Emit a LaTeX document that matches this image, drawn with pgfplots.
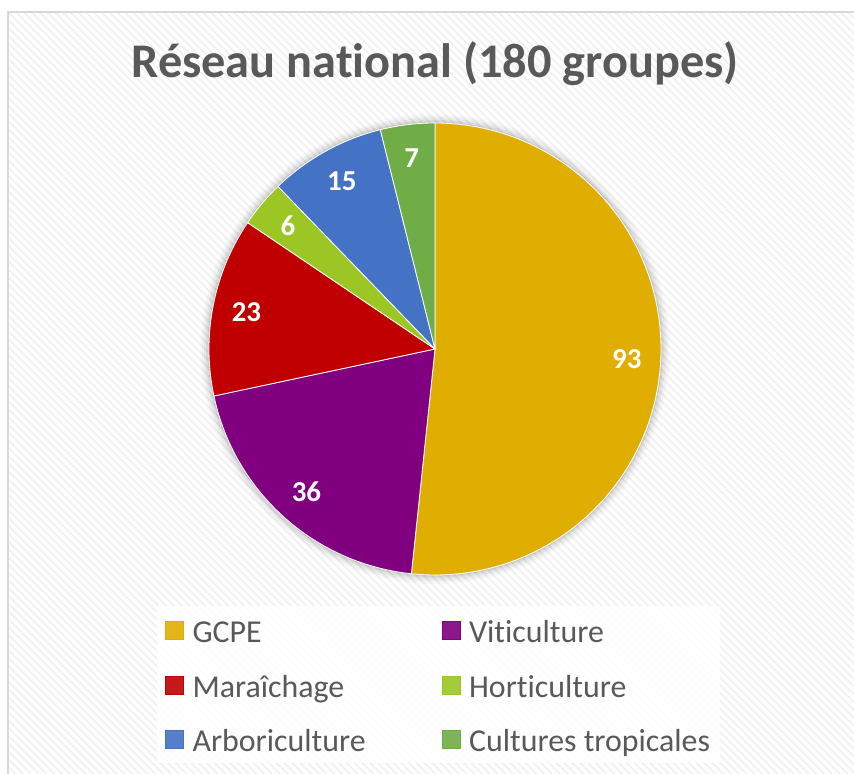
\documentclass[border=0pt]{standalone}
\usepackage{fontspec}
\setmainfont{Carlito}[Ligatures=CommonOff]
\usepackage{pgfplots}
\pgfplotsset{compat=1.18}
\usepackage{pgfplotstable}
\usetikzlibrary{patterns.meta}

\definecolor{cGCPE}{HTML}{DFAE00}
\definecolor{cViti}{HTML}{800080}
\definecolor{cMara}{HTML}{C00000}
\definecolor{cHort}{HTML}{9BC623}
\definecolor{cArbo}{HTML}{4472C4}
\definecolor{cTrop}{HTML}{70AD47}
\definecolor{txtgray}{HTML}{595959}

\pgfplotstableread{
label value color
GCPE 93 cGCPE
Viticulture 36 cViti
Maraichage 23 cMara
Horticulture 6 cHort
Arboriculture 15 cArbo
Tropicales 7 cTrop
}\pietable

\begin{document}
\begin{tikzpicture}[x=1bp,y=1bp]
\useasboundingbox (0,0) rectangle (854,774);
\clip (0,0) rectangle (854,774);
\fill[white] (0,0) rectangle (854,774);
\fill[pattern={Lines[angle=-45,distance=5.5bp,line width=1.6bp]}, pattern color=black!6] (8,-10) rectangle (870,762);
\draw[black!15, line width=1.2bp] (8,-10) rectangle (870,762);
% soft shadow around pie
\foreach \r/\o in {9/0.02,7/0.03,5/0.04,3/0.05,1.5/0.06}{
  \fill[black, opacity=\o] (435,425) circle[radius=226+\r];
}
\begin{axis}[
  at={(435bp,425bp)}, anchor=center,
  x=226bp, y=226bp,
  xmin=-1, xmax=1, ymin=-1, ymax=1,
  hide axis,
  clip=false,
  title={Réseau national (180 groupes)},
  title style={font=\fontsize{48.5}{58}\selectfont\bfseries, text=txtgray,
    at={(axis description cs:0.5,1.0863)}, anchor=base},
  legend columns=2,
  legend cell align=left,
  legend image code/.code={\fill[#1] (0bp,-9bp) rectangle (18bp,9bp);},
  legend style={
    at={(-0.115,-0.0686)}, anchor=north west,
    draw=none, fill=white, fill opacity=0.9, text opacity=1,
    font=\fontsize{32}{38}\selectfont, text=txtgray,
    inner xsep=8bp, inner ysep=8bp,
    row sep=22.5bp,
    nodes={inner sep=2bp},
    /tikz/every odd column/.append style={column sep=7bp},
    /tikz/every even column/.append style={column sep=74bp},
  },
]
\pgfplotstablegetrowsof{\pietable}
\pgfmathtruncatemacro{\N}{\pgfplotsretval-1}
\def\total{0}
\pgfplotsforeachungrouped \i in {0,...,\N}{
  \pgfplotstablegetelem{\i}{value}\of{\pietable}
  \pgfmathsetmacro{\total}{\total+\pgfplotsretval}
}
\def\cum{0}
\pgfplotsforeachungrouped \i in {0,...,\N}{
  \pgfplotstablegetelem{\i}{value}\of{\pietable}\let\v\pgfplotsretval
  \pgfplotstablegetelem{\i}{color}\of{\pietable}\let\c\pgfplotsretval
  \pgfmathsetmacro{\a}{90-\cum/\total*360}
  \pgfmathsetmacro{\b}{90-(\cum+\v)/\total*360}
  \pgfmathsetmacro{\m}{(\a+\b)/2}
  \pgfmathsetmacro{\lx}{0.85*cos(\m)}
  \pgfmathsetmacro{\ly}{0.85*sin(\m)}
  \edef\temp{\noexpand\fill[\c, draw=white, line width=0.8bp, line join=round]
      (axis cs:0,0) -- plot[domain=\a:\b, samples=90] ({cos(\noexpand\x)},{sin(\noexpand\x)}) -- cycle;
    \noexpand\node[font=\noexpand\fontsize{29}{34}\noexpand\selectfont\noexpand\bfseries, text=white]
      at (axis cs:\lx,\ly) {\v};}
  \temp
  \pgfmathsetmacro{\cum}{\cum+\v}
}
\addlegendimage{cGCPE}\addlegendentry{\strut GCPE}
\addlegendimage{cViti}\addlegendentry{\strut Viticulture}
\addlegendimage{cMara}\addlegendentry{\strut Maraîchage}
\addlegendimage{cHort}\addlegendentry{\strut Horticulture}
\addlegendimage{cArbo}\addlegendentry{\strut Arboriculture}
\addlegendimage{cTrop}\addlegendentry{\strut Cultures tropicales}
\end{axis}
\end{tikzpicture}
\end{document}
